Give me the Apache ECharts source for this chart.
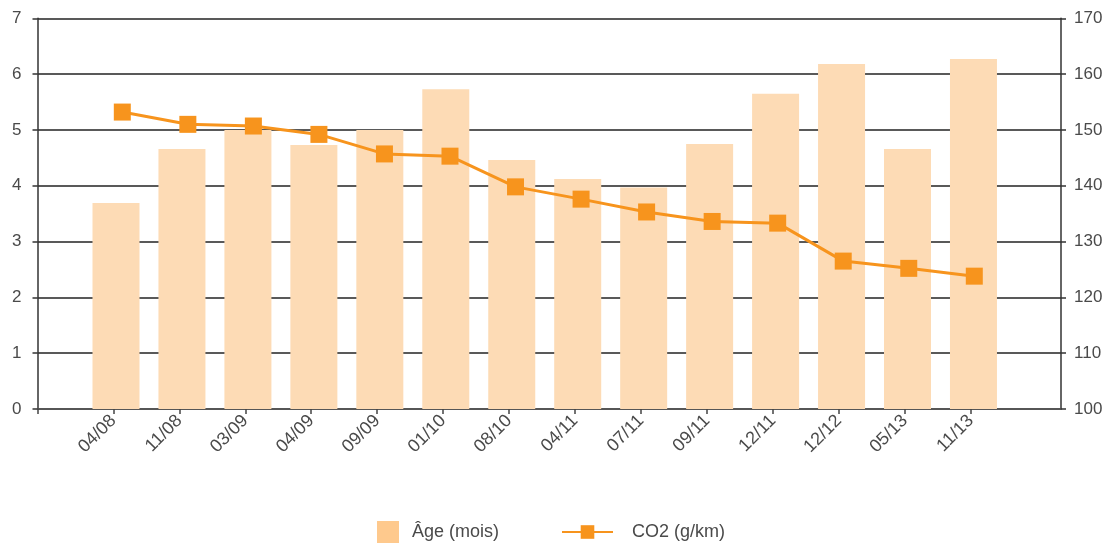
<!DOCTYPE html>
<html><head><meta charset="utf-8">
<script src="https://cdn.jsdelivr.net/npm/echarts@6/dist/echarts.min.js"></script>
<style>html,body{margin:0;padding:0;background:#fff}#c{width:1112px;height:545px}</style>
</head><body><div id="c"></div>
<script>
const categories = ['04/08','11/08','03/09','04/09','09/09','01/10','08/10','04/11','07/11','09/11','12/11','12/12','05/13','11/13'];
const ageValues = [3.69, 4.66, 5.0, 4.73, 5.0, 5.73, 4.46, 4.12, 3.97, 4.75, 5.65, 6.18, 4.66, 6.27];
const co2Values = [153.2, 151.0, 150.7, 149.2, 145.7, 145.3, 139.8, 137.6, 135.3, 133.6, 133.3, 126.5, 125.2, 123.8];
const leftTicks = [0,1,2,3,4,5,6,7];
const rightTicks = [100,110,120,130,140,150,160,170];

const idx = categories.map((_, i) => i);
const tickIdx = idx.map(i => i - 0.04);
const font = 'Liberation Sans, Arial, sans-serif';
const textColor = '#4a4a4a';
const chart = echarts.init(document.getElementById('c'));
chart.setOption({
  animation: false,
  grid: { left: 37.5, right: 51, top: 18.3, bottom: 136, containLabel: false },
  xAxis: [
    { type: 'value', min: -1.19, max: 14.327, splitLine: { show: false },
      axisLine: { show: true, onZero: false, lineStyle: { color: '#555', width: 1.5 } },
      axisTick: { show: true, length: 5, customValues: [-1.19].concat(tickIdx), lineStyle: { color: '#444', width: 1.5 } },
      axisLabel: { customValues: tickIdx, rotate: 45, color: textColor, fontFamily: font, fontSize: 18, margin: 9,
        formatter: v => categories[Math.round(v)] || '' } },
    { type: 'value', min: -1.294, max: 14.323, show: false }
  ],
  yAxis: [
    { type: 'value', min: 0, max: 7, interval: 1,
      axisLine: { show: true, onZero: false, lineStyle: { color: '#333', width: 1.5 } },
      axisTick: { show: true, length: 5, lineStyle: { color: '#333', width: 1.5 } },
      axisLabel: { color: textColor, fontFamily: font, fontSize: 17, margin: 16,
        formatter: v => leftTicks.includes(v) ? String(v) : '' } ,
      splitLine: { show: true, lineStyle: { color: '#222', width: 1.5 } } },
    { type: 'value', min: 100, max: 170, interval: 10, position: 'right',
      axisLine: { show: true, onZero: false, lineStyle: { color: '#333', width: 1.5 } },
      axisTick: { show: true, length: 5, lineStyle: { color: '#333', width: 1.5 } },
      axisLabel: { color: textColor, fontFamily: font, fontSize: 17, margin: 13,
        formatter: v => rightTicks.includes(v) ? String(v) : '' },
      splitLine: { show: false } }
  ],
  legend: [
    { data: [{ name: 'Âge (mois)', icon: 'rect', itemStyle: { color: '#FEC98D' } }],
      left: 372, top: 516, itemWidth: 22, itemHeight: 22,
      textStyle: { color: textColor, fontFamily: font, fontSize: 18, padding: [0, 0, 0, 8] } },
    { data: ['CO2 (g/km)'], left: 556, top: 518, itemWidth: 51, itemHeight: 17,
      textStyle: { color: textColor, fontFamily: font, fontSize: 18, padding: [0, 0, 0, 14] } }
  ],
  series: [
    { name: 'Âge (mois)', type: 'bar', xAxisIndex: 0, yAxisIndex: 0, barWidth: 47,
      itemStyle: { color: '#FDDBB5' }, z: 3,
      data: ageValues.map((v, i) => [i, v]) },
    { name: 'CO2 (g/km)', type: 'line', xAxisIndex: 1, yAxisIndex: 1,
      symbol: 'rect', symbolSize: 17, z: 5,
      lineStyle: { color: '#F7941D', width: 3 },
      itemStyle: { color: '#F7941D' },
      data: co2Values.map((v, i) => [i, v]) }
  ]
});
</script></body></html>
